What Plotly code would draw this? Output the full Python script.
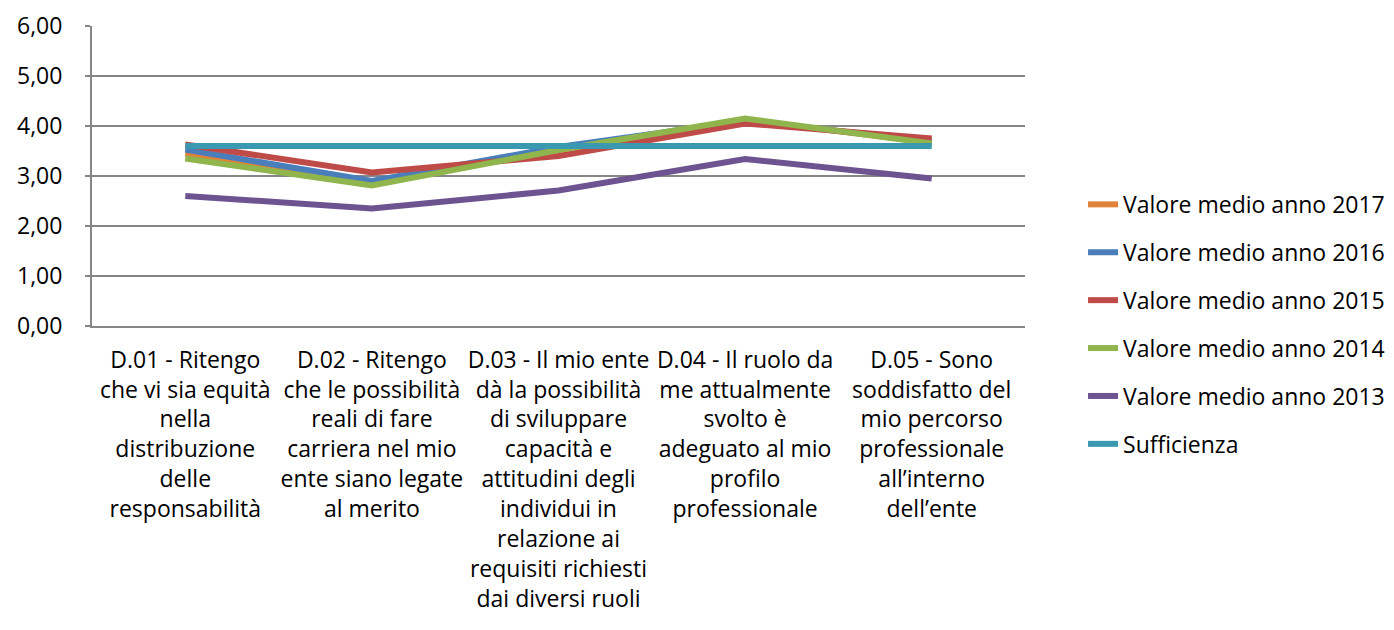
import plotly.graph_objects as go

categories = [
    "D.01 - Ritengo<br>che vi sia equità<br>nella<br>distribuzione<br>delle<br>responsabilità",
    "D.02 - Ritengo<br>che le possibilità<br>reali di fare<br>carriera nel mio<br>ente siano legate<br>al merito",
    "D.03 - Il mio ente<br>dà la possibilità<br>di sviluppare<br>capacità e<br>attitudini degli<br>individui in<br>relazione ai<br>requisiti richiesti<br>dai diversi ruoli",
    "D.04 - Il ruolo da<br>me attualmente<br>svolto è<br>adeguato al mio<br>profilo<br>professionale",
    "D.05 - Sono<br>soddisfatto del<br>mio percorso<br>professionale<br>all’interno<br>dell’ente",
]

val_2017 = [3.45, 2.85, 3.52, 4.12, 3.67]
val_2016 = [3.53, 2.90, 3.58, 4.10, 3.70]
val_2015 = [3.63, 3.07, 3.40, 4.05, 3.75]
val_2014 = [3.35, 2.81, 3.52, 4.15, 3.65]
val_2013 = [2.60, 2.35, 2.71, 3.34, 2.95]
sufficienza = [3.60, 3.60, 3.60, 3.60, 3.60]

series = [
    ("Valore medio anno 2017", val_2017, "#E0823A"),
    ("Valore medio anno 2016", val_2016, "#4A7EBB"),
    ("Valore medio anno 2015", val_2015, "#BE4B48"),
    ("Valore medio anno 2014", val_2014, "#8FB54C"),
    ("Valore medio anno 2013", val_2013, "#6E5391"),
    ("Sufficienza", sufficienza, "#3A98B0"),
]

FONT = "Open Sans"
FS = 23
x = list(range(len(categories)))

fig = go.Figure()
for i, (name, vals, color) in enumerate(series):
    fig.add_trace(go.Scatter(
        x=x, y=vals, name=name, mode="lines",
        line=dict(color=color, width=6),
        legendgroup=f"g{i}",
    ))

# page body has an 8px margin, so the figure is sized/offset to compensate
fig.update_layout(
    width=1386, height=622,
    margin=dict(l=84, r=369, t=18, b=304, autoexpand=False),
    plot_bgcolor="white", paper_bgcolor="white",
    font=dict(family=FONT, size=FS, color="black"),
    showlegend=True,
    legend=dict(
        x=1.0622, xanchor="left", y=0.477, yanchor="top",
        font=dict(family=FONT, size=FS, color="black"),
        tracegroupgap=15, bgcolor="rgba(0,0,0,0)",
    ),
    separators=",.",
)

fig.update_xaxes(
    range=[-0.5, 4.5], automargin=False,
    tickmode="array", tickvals=x, ticktext=categories,
    showgrid=False, zeroline=False,
    showline=True, linecolor="#868686", linewidth=2,
    ticks="", ticklabelstandoff=12,
    tickfont=dict(family=FONT, size=FS, color="black"),
)

fig.update_yaxes(
    range=[0, 6], dtick=1, tickformat=".2f", automargin=False,
    showgrid=True, gridcolor="#868686", gridwidth=2,
    zeroline=False,
    showline=True, linecolor="#868686", linewidth=2,
    ticks="outside", ticklen=5, tickcolor="#868686", tickwidth=2,
    ticklabelstandoff=18,
    tickfont=dict(family=FONT, size=FS, color="black"),
)

fig.write_html("out.html")
